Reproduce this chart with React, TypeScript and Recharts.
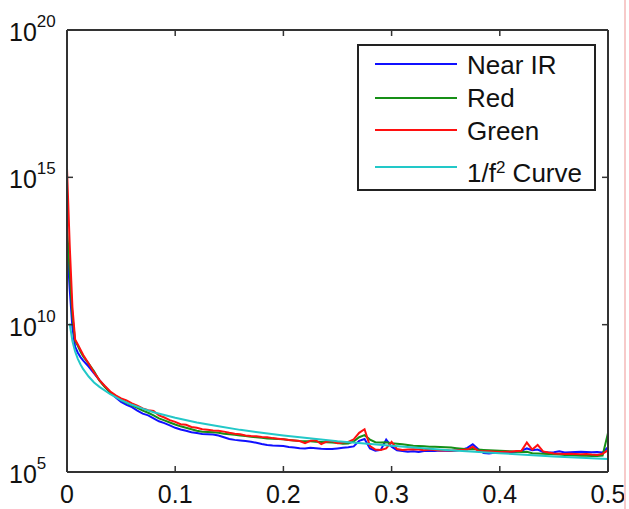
import { LineChart, Line, XAxis, YAxis, Legend } from 'recharts';

// frequency grid shared by the three measured spectra
const FREQ = [
  0, 0.0025, 0.005, 0.0075, 0.01, 0.0125, 0.015, 0.02, 0.025, 0.03, 0.035, 0.04, 0.045,
  0.05, 0.055, 0.06, 0.065, 0.07, 0.075, 0.08, 0.085, 0.09, 0.095,
  0.1, 0.105, 0.11, 0.115, 0.12, 0.125, 0.13, 0.135, 0.14, 0.145,
  0.15, 0.155, 0.16, 0.165, 0.17, 0.175, 0.18, 0.185, 0.19, 0.195,
  0.2, 0.205, 0.21, 0.215, 0.22, 0.225, 0.23, 0.235, 0.24, 0.245,
  0.25, 0.255, 0.26, 0.265, 0.27, 0.275, 0.28, 0.285, 0.29, 0.295,
  0.3, 0.305, 0.31, 0.315, 0.32, 0.325, 0.33, 0.335, 0.34, 0.345,
  0.35, 0.355, 0.36, 0.365, 0.37, 0.375, 0.38, 0.385, 0.39, 0.395,
  0.4, 0.405, 0.41, 0.415, 0.42, 0.425, 0.43, 0.435, 0.44, 0.445,
  0.45, 0.455, 0.46, 0.465, 0.47, 0.475, 0.48, 0.485, 0.49, 0.495,
  0.5,
];

// values are log10 of the power
const NEAR_IR = [
  12.8, 11.2, 9.9, 9.25, 9.05, 8.9, 8.78, 8.58, 8.35, 8.12, 7.9, 7.7, 7.53,
  7.38, 7.28, 7.2, 7.08, 6.98, 6.92, 6.82, 6.72, 6.66, 6.58,
  6.5, 6.44, 6.4, 6.35, 6.32, 6.29, 6.28, 6.27, 6.24, 6.18,
  6.12, 6.09, 6.07, 6.05, 6.03, 5.99, 5.95, 5.92, 5.9, 5.89,
  5.88, 5.85, 5.83, 5.81, 5.8, 5.82, 5.81, 5.79, 5.78, 5.78,
  5.8, 5.82, 5.84, 5.87, 6.06, 6.12, 5.8, 5.72, 5.75, 6.1,
  5.86, 5.74, 5.71, 5.69, 5.7, 5.68, 5.71, 5.72, 5.71, 5.73,
  5.72, 5.71, 5.73, 5.76, 5.82, 5.94, 5.78, 5.64, 5.63, 5.65,
  5.66, 5.67, 5.68, 5.69, 5.72, 5.8, 5.74, 5.76, 5.68, 5.66,
  5.67, 5.7, 5.66, 5.67, 5.68, 5.69, 5.68, 5.67, 5.68, 5.66,
  5.84,
];

const RED_BAND = [
  13.3, 11.8, 10.3, 9.45, 9.28, 9.08, 8.92, 8.68, 8.42, 8.1, 7.88, 7.7, 7.58,
  7.45, 7.35, 7.26, 7.18, 7.08, 7.01, 6.92, 6.82, 6.75, 6.68,
  6.61, 6.55, 6.5, 6.45, 6.4, 6.37, 6.36, 6.35, 6.33, 6.3,
  6.28, 6.26, 6.24, 6.22, 6.2, 6.18, 6.16, 6.14, 6.13, 6.12,
  6.11, 6.09, 6.07, 6.05, 6.04, 6.04, 6.03, 6.02, 6.01, 6.0,
  5.98, 5.96, 5.97, 6.04, 6.18, 6.25, 6.1, 6.01, 6.0, 6.01,
  5.98, 5.96, 5.94, 5.92, 5.89, 5.88, 5.87, 5.86, 5.86, 5.85,
  5.84, 5.83, 5.81, 5.79, 5.77, 5.78, 5.76, 5.75, 5.74, 5.73,
  5.72, 5.71, 5.7, 5.69, 5.68, 5.69, 5.64, 5.63, 5.62, 5.61,
  5.6, 5.59, 5.58, 5.57, 5.56, 5.55, 5.55, 5.54, 5.54, 5.56,
  6.32,
];

const GREEN_BAND = [
  15.3, 12.7, 10.6, 9.5, 9.33, 9.15, 8.97, 8.68, 8.38, 8.12, 7.92, 7.73, 7.6,
  7.5, 7.43, 7.33, 7.25, 7.16, 7.1, 7.07, 6.92, 6.85, 6.76,
  6.7, 6.62, 6.6, 6.53, 6.5, 6.45, 6.43, 6.41, 6.4, 6.37,
  6.33, 6.3, 6.28, 6.24, 6.22, 6.21, 6.19, 6.18, 6.15, 6.13,
  6.11, 6.09, 6.07, 6.05, 5.98, 6.06, 6.08, 5.95, 6.03, 6.05,
  5.98, 6.0, 6.02, 6.11, 6.33, 6.45, 5.88, 5.76, 5.75, 5.8,
  6.02, 5.78, 5.75, 5.76, 5.77, 5.76, 5.74, 5.76, 5.75, 5.73,
  5.74, 5.72, 5.74, 5.75, 5.76, 5.86, 5.71, 5.7, 5.7, 5.69,
  5.68, 5.69, 5.69, 5.71, 5.72, 6.0, 5.76, 5.92, 5.7, 5.66,
  5.63, 5.62, 5.61, 5.62, 5.61, 5.6, 5.61, 5.59, 5.58, 5.62,
  5.74,
];

// the fitted 1/f^2 curve
const CURVE_FREQ = [
  0.0025, 0.005, 0.0075, 0.01, 0.0125, 0.015, 0.02, 0.025, 0.03, 0.04, 0.05, 0.06, 0.07,
  0.08, 0.1, 0.12, 0.14, 0.16, 0.18, 0.2, 0.25, 0.3, 0.35, 0.4, 0.45, 0.5,
];
const CURVE = [
  10.04, 9.44, 9.09, 8.84, 8.65, 8.49, 8.24, 8.04, 7.89, 7.64, 7.44, 7.28, 7.15,
  7.03, 6.84, 6.68, 6.55, 6.43, 6.33, 6.24, 6.04, 5.89, 5.75, 5.64, 5.53, 5.44,
];

const X_TICKS = [0, 0.1, 0.2, 0.3, 0.4, 0.5];
const Y_TICKS = [5, 10, 15, 20];

// the curve sits on the top/right axes (same scales) so the box closes
const SERIES = [
  { name: 'Near IR', color: '#1010ff', freq: FREQ, values: NEAR_IR, x: 'bottom', y: 'left' },
  { name: 'Red', color: '#168f16', freq: FREQ, values: RED_BAND, x: 'bottom', y: 'left' },
  { name: 'Green', color: '#ff1010', freq: FREQ, values: GREEN_BAND, x: 'bottom', y: 'left' },
  { name: '1/f^2 Curve', color: '#22c8c8', freq: CURVE_FREQ, values: CURVE, x: 'top', y: 'right' },
];

const FONT = '"Liberation Sans", Arial, Helvetica, sans-serif';
const AXIS = '#333';

function BottomTick({ x, y, payload }: any) {
  return (
    <g>
      <line x1={x} y1={y} x2={x} y2={y - 6} stroke={AXIS} strokeWidth={1.5} />
      <text x={x} y={y + 31} textAnchor="middle" fontSize={25} fontFamily={FONT} fill="#111">
        {payload.value}
      </text>
    </g>
  );
}

function TopTick({ x, y }: any) {
  return <line x1={x} y1={y} x2={x} y2={y + 6} stroke={AXIS} strokeWidth={1.5} />;
}

function LeftTick({ x, y, payload }: any) {
  return (
    <g>
      <line x1={x} y1={y} x2={x + 6} y2={y} stroke={AXIS} strokeWidth={1.5} />
      <text x={9} y={y + 11} fontSize={25} fontFamily={FONT} fill="#111">
        10
        <tspan dy={-14} fontSize={17}>{payload.value}</tspan>
      </text>
    </g>
  );
}

function RightTick({ x, y }: any) {
  return <line x1={x} y1={y} x2={x - 6} y2={y} stroke={AXIS} strokeWidth={1.5} />;
}

function label(name: string) {
  const [base, rest] = name.split('^');
  if (rest === undefined) return name;
  return (
    <>
      {base}
      <tspan dy={-9} fontSize={17}>{rest[0]}</tspan>
      <tspan dy={9}>{rest.slice(1)}</tspan>
    </>
  );
}

function LegendBox() {
  const rows = [20, 54, 86, 123];
  const baselines = [30, 63, 96, 138];
  return (
    <svg width={239} height={147} style={{ display: 'block' }}>
      <rect x={1} y={1} width={237} height={145} fill="#fff" stroke="#222" strokeWidth={2} />
      {SERIES.map((s, i) => (
        <g key={s.name}>
          <line x1={18} y1={rows[i]} x2={100} y2={rows[i]} stroke={s.color} strokeWidth={2} />
          <text x={110} y={baselines[i]} fontSize={26} fontFamily={FONT} fill="#111">
            {label(s.name)}
          </text>
        </g>
      ))}
    </svg>
  );
}

export default function App() {
  return (
    <div style={{ position: 'absolute', left: 0, top: 0, width: 629, height: 509, background: '#fff' }}>
      <LineChart width={629} height={509} margin={{ top: 29, right: 20, bottom: 0, left: 0 }}>
        <XAxis
          xAxisId="bottom"
          type="number"
          dataKey="f"
          domain={[0, 0.5]}
          ticks={X_TICKS}
          interval={0}
          allowDataOverflow
          height={37}
          tickSize={0}
          tickMargin={0}
          tickLine={false}
          axisLine={{ stroke: AXIS, strokeWidth: 2 }}
          tick={<BottomTick />}
        />
        <XAxis
          xAxisId="top"
          orientation="top"
          type="number"
          dataKey="f"
          domain={[0, 0.5]}
          ticks={X_TICKS}
          interval={0}
          allowDataOverflow
          height={1}
          tickSize={0}
          tickMargin={0}
          tickLine={false}
          axisLine={{ stroke: AXIS, strokeWidth: 2 }}
          tick={<TopTick />}
        />
        <YAxis
          yAxisId="left"
          type="number"
          domain={[5, 20]}
          ticks={Y_TICKS}
          interval={0}
          allowDataOverflow
          width={67}
          tickSize={0}
          tickMargin={0}
          tickLine={false}
          axisLine={{ stroke: AXIS, strokeWidth: 2 }}
          tick={<LeftTick />}
        />
        <YAxis
          yAxisId="right"
          orientation="right"
          type="number"
          domain={[5, 20]}
          ticks={Y_TICKS}
          interval={0}
          allowDataOverflow
          width={1}
          tickSize={0}
          tickMargin={0}
          tickLine={false}
          axisLine={{ stroke: AXIS, strokeWidth: 2 }}
          tick={<RightTick />}
        />
        {SERIES.map((s) => (
          <Line
            key={s.name}
            xAxisId={s.x}
            yAxisId={s.y}
            data={s.freq.map((f, i) => ({ f, v: s.values[i] }))}
            dataKey="v"
            name={s.name}
            type="linear"
            stroke={s.color}
            strokeWidth={2}
            dot={false}
            isAnimationActive={false}
          />
        ))}
        <Legend
          layout="horizontal"
          verticalAlign="middle"
          align="center"
          wrapperStyle={{ left: 357, top: 44, width: 239, height: 147 }}
          content={() => <LegendBox />}
        />
      </LineChart>
      <div style={{ position: 'absolute', left: 624, top: 0, width: 2, height: 509, background: '#f7caca' }} />
    </div>
  );
}
